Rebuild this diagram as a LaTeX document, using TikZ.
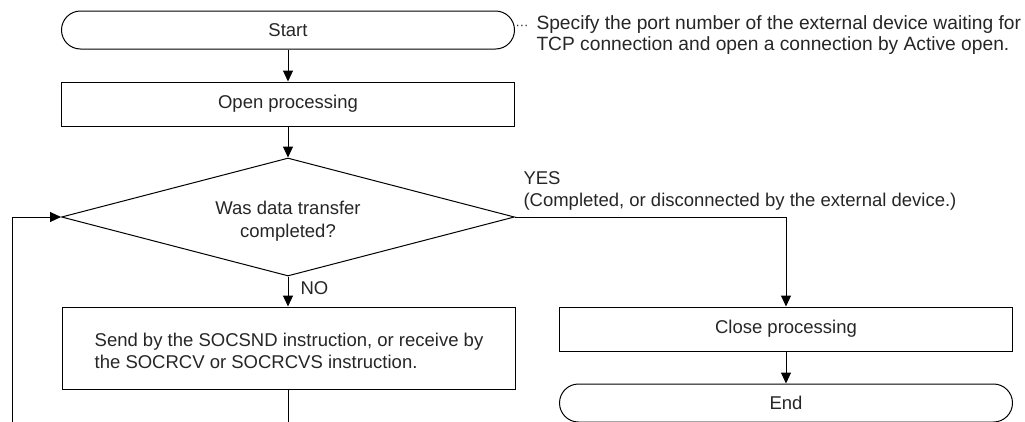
\documentclass[tikz,border=0pt]{standalone}
\usepackage{fontspec}
\setmainfont{Liberation Sans}
\usetikzlibrary{arrows.meta, positioning, shapes.geometric}

\begin{document}
\begin{tikzpicture}[x=1pt, y=-1pt, line width=1pt,
    every node/.style={font=\fontsize{18.5}{22}\selectfont, text=black!85},
    term/.style={draw, rounded corners=19pt, minimum width=453pt, minimum height=38pt, inner sep=0pt},
    proc/.style={draw, minimum width=453pt, minimum height=44pt, inner sep=0pt},
    decide/.style={draw, diamond, aspect=3.8, minimum width=453pt, minimum height=118pt, inner sep=0pt, align=center},
    arr/.style={-{Triangle[length=11pt, width=10pt]}}]
  \useasboundingbox (0,0) rectangle (1025,421);
  \node[term] (start) at (288,30) {Start};
  \node[proc] (open) at (288,104) {Open processing};
  \node[decide, text height=45pt, font=\fontsize{18.5}{23.5}\selectfont] (check) at (288,217) {Was data transfer\\completed?};
  \node[proc, minimum height=82pt, align=left, text height=41pt] (send) at (289,348)
    {Send by the SOCSND instruction, or receive by\\the SOCRCV or SOCRCVS instruction.};
  \node[proc] (close) at (786,329) {Close processing};
  \node[term] (stop) at (786,403) {End};
  \node[anchor=north west, align=left, inner sep=0pt, font=\fontsize{19.2}{21.5}\selectfont] (note) at (536,15)
    {Specify the port number of the external device waiting for\\TCP connection and open a connection by Active open.};
  \node[anchor=east, inner sep=0pt, font=\fontsize{13}{13}\selectfont] (dots) at ([xshift=-7pt, yshift=-12.5pt]note.north west) {···};
  \coordinate (loop) at (12,450);

  \draw[arr] (start) -- (open);
  \draw[arr] (open) -- (check);
  \draw[arr] (check.south) -- node[right=12pt, yshift=3pt, inner sep=0pt] (no) {NO} (send.north -| check.south);
  \draw[arr] (check.east) -| (close.north);
  \node[anchor=south west, align=left, inner sep=0pt] (yes) at ([xshift=8pt, yshift=6pt]check.east)
    {YES\\(Completed, or disconnected by the external device.)};
  \draw[arr] (close) -- (stop);
  \draw[arr] (send.south -| check.south) |- (loop) |- (check.west);
\end{tikzpicture}
\end{document}
